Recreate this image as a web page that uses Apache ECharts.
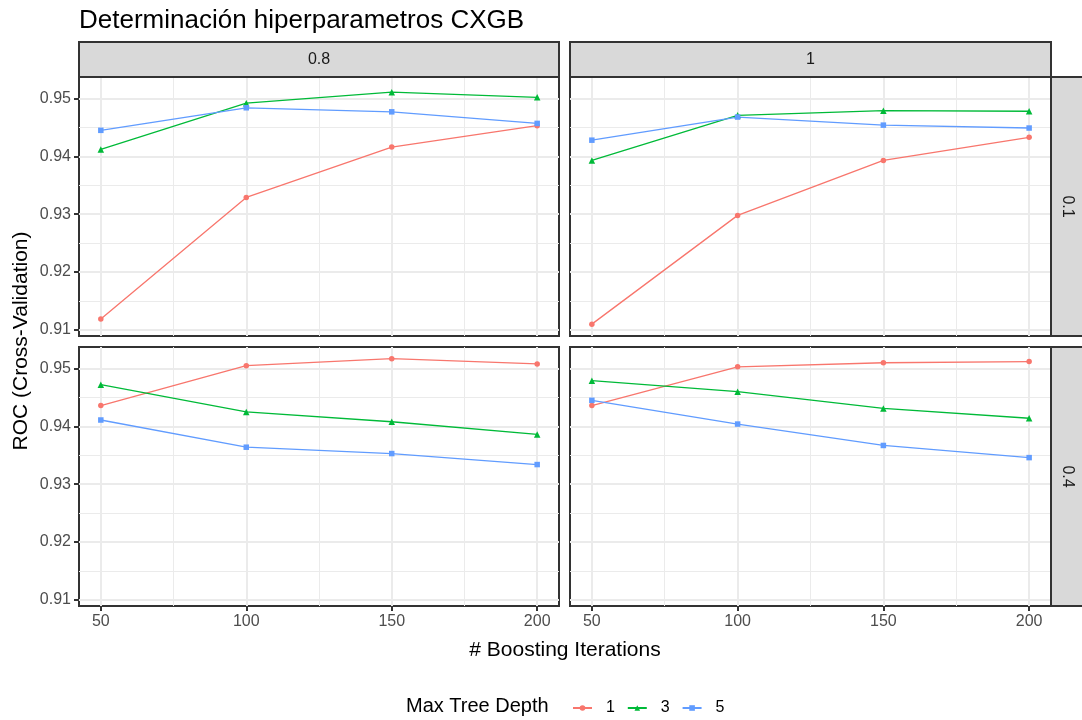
<!DOCTYPE html>
<html>
<head>
<meta charset="utf-8">
<script src="https://cdn.jsdelivr.net/npm/echarts@6/dist/echarts.min.js"></script>
<style>
  html, body { margin: 0; padding: 0; background: #ffffff; }
  #chart { width: 1082px; height: 720px; }
</style>
</head>
<body>
<div id="chart"></div>
<script>
// ---- data -------------------------------------------------------------
const iterations = [50, 100, 150, 200];
const subsampleLevels = ['0.8', '1'];      // column facets
const etaLevels = ['0.1', '0.4'];          // row facets
const depthLevels = ['1', '3', '5'];       // Max Tree Depth
const rocTicks = [0.91, 0.92, 0.93, 0.94, 0.95];
const rocMinorTicks = [0.915, 0.925, 0.935, 0.945];
const iterTicks = [50, 100, 150, 200];
const iterMinorTicks = [75, 125, 175];

// ROC per boosting iterations, subsample 0.8, eta 0.1
const roc_s08_e01_d1 = [0.9119, 0.9329, 0.9416, 0.9453];
const roc_s08_e01_d3 = [0.9412, 0.9492, 0.9511, 0.9502];
const roc_s08_e01_d5 = [0.9445, 0.9484, 0.9477, 0.9457];
// subsample 1, eta 0.1
const roc_s1_e01_d1 = [0.9110, 0.9298, 0.9393, 0.9433];
const roc_s1_e01_d3 = [0.9393, 0.9471, 0.9479, 0.9478];
const roc_s1_e01_d5 = [0.9428, 0.9468, 0.9454, 0.9449];
// subsample 0.8, eta 0.4
const roc_s08_e04_d1 = [0.9436, 0.9505, 0.9517, 0.9508];
const roc_s08_e04_d3 = [0.9472, 0.9425, 0.9408, 0.9386];
const roc_s08_e04_d5 = [0.9411, 0.9364, 0.9353, 0.9334];
// subsample 1, eta 0.4
const roc_s1_e04_d1 = [0.9436, 0.9503, 0.9510, 0.9512];
const roc_s1_e04_d3 = [0.9479, 0.9460, 0.9431, 0.9414];
const roc_s1_e04_d5 = [0.9445, 0.9404, 0.9367, 0.9346];

// ---- layout & style ---------------------------------------------------
const FONT = '"Liberation Sans", Arial, sans-serif';
const colLeft = [79, 570];
const colWidth = [480, 481];
const rowTop = [77, 347];
const rowHeight = 259;
const stripTop = 42, stripH = 35;
const stripRightX = 1051, stripRightW = 34;
const xRange = [42.5, 207.5];
const yRange = [0.90895, 0.95372];

const depthColors = ['#F8766D', '#00BA38', '#619CFF'];
const depthSymbols = ['circle', 'triangle', 'rect'];
const depthSymbolSizes = [5.5, 6.5, 5.5];

const panels = [
  { col: 0, row: 0, values: [roc_s08_e01_d1, roc_s08_e01_d3, roc_s08_e01_d5] },
  { col: 1, row: 0, values: [roc_s1_e01_d1, roc_s1_e01_d3, roc_s1_e01_d5] },
  { col: 0, row: 1, values: [roc_s08_e04_d1, roc_s08_e04_d3, roc_s08_e04_d5] },
  { col: 1, row: 1, values: [roc_s1_e04_d1, roc_s1_e04_d3, roc_s1_e04_d5] }
];

const grids = [], xAxes = [], yAxes = [], series = [];

panels.forEach((p, i) => {
  grids.push({
    left: colLeft[p.col], top: rowTop[p.row],
    width: colWidth[p.col], height: rowHeight,
    show: true, backgroundColor: '#ffffff',
    borderColor: '#333333', borderWidth: 2, z: 0
  });
  const showX = p.row === 1;
  const showY = p.col === 0;
  // major x axis (ticks and labels on the bottom row)
  xAxes.push({
    type: 'value', gridIndex: i, min: xRange[0], max: xRange[1], position: 'bottom',
    axisLine: { show: false },
    axisTick: { show: showX, length: 5, customValues: iterTicks,
                lineStyle: { color: '#333333', width: 2 } },
    axisLabel: { show: showX, customValues: iterTicks, margin: 8,
                 color: '#4D4D4D', fontSize: 16, fontFamily: FONT },
    splitLine: { show: true, lineStyle: { color: '#EBEBEB', width: 2 } },
    z: 1
  });
  // minor x grid
  xAxes.push({
    type: 'value', gridIndex: i, min: xRange[0], max: xRange[1], position: 'bottom',
    axisLine: { show: false },
    axisTick: { show: false, customValues: iterMinorTicks },
    axisLabel: { show: false, customValues: iterMinorTicks },
    splitLine: { show: true, lineStyle: { color: '#EBEBEB', width: 1 } },
    z: 1
  });
  // major y axis
  yAxes.push({
    type: 'value', gridIndex: i, min: yRange[0], max: yRange[1], position: 'left',
    axisLine: { show: false },
    axisTick: { show: showY, length: 5, customValues: rocTicks,
                lineStyle: { color: '#333333', width: 2 } },
    axisLabel: { show: showY, customValues: rocTicks, margin: 8,
                 color: '#4D4D4D', fontSize: 16, fontFamily: FONT,
                 formatter: v => v.toFixed(2) },
    splitLine: { show: true, lineStyle: { color: '#EBEBEB', width: 2 } },
    z: 1
  });
  // minor y grid
  yAxes.push({
    type: 'value', gridIndex: i, min: yRange[0], max: yRange[1], position: 'left',
    axisLine: { show: false },
    axisTick: { show: false, customValues: rocMinorTicks },
    axisLabel: { show: false, customValues: rocMinorTicks },
    splitLine: { show: true, lineStyle: { color: '#EBEBEB', width: 1 } },
    z: 1
  });
  p.values.forEach((vals, d) => {
    series.push({
      type: 'line', name: depthLevels[d],
      xAxisIndex: i * 2, yAxisIndex: i * 2,
      data: iterations.map((it, k) => [it, vals[k]]),
      symbol: depthSymbols[d], symbolSize: depthSymbolSizes[d], showSymbol: true,
      itemStyle: { color: depthColors[d] },
      lineStyle: { color: depthColors[d], width: 1.3 },
      emphasis: { disabled: true },
      animation: false, z: 3
    });
  });
});

// facet strips
const graphics = [];
subsampleLevels.forEach((lab, c) => {
  graphics.push({
    type: 'rect', z: 10,
    shape: { x: colLeft[c], y: stripTop, width: colWidth[c], height: stripH },
    style: { fill: '#D9D9D9', stroke: '#333333', lineWidth: 2 }
  });
  graphics.push({
    type: 'text', z: 11,
    x: colLeft[c] + colWidth[c] / 2, y: stripTop + stripH / 2,
    style: { text: lab, fill: '#1A1A1A', fontSize: 16, fontFamily: FONT,
             align: 'center', verticalAlign: 'middle' }
  });
});
etaLevels.forEach((lab, r) => {
  graphics.push({
    type: 'rect', z: 10,
    shape: { x: stripRightX, y: rowTop[r], width: stripRightW, height: rowHeight },
    style: { fill: '#D9D9D9', stroke: '#333333', lineWidth: 2 }
  });
  graphics.push({
    type: 'text', z: 11,
    x: stripRightX + 16, y: rowTop[r] + rowHeight / 2,
    rotation: -Math.PI / 2,
    style: { text: lab, fill: '#1A1A1A', fontSize: 16, fontFamily: FONT,
             align: 'center', verticalAlign: 'middle' }
  });
});
// axis titles
graphics.push({
  type: 'text', z: 11, x: 21, y: 341, rotation: Math.PI / 2,
  style: { text: 'ROC (Cross-Validation)', fill: '#000000', fontSize: 21,
           fontFamily: FONT, align: 'center', verticalAlign: 'middle' }
});
graphics.push({
  type: 'text', z: 11, x: 565, y: 650,
  style: { text: '# Boosting Iterations', fill: '#000000', fontSize: 21,
           fontFamily: FONT, align: 'center', verticalAlign: 'middle' }
});
// legend title
graphics.push({
  type: 'text', z: 11, x: 406, y: 706,
  style: { text: 'Max Tree Depth', fill: '#000000', fontSize: 20,
           fontFamily: FONT, align: 'left', verticalAlign: 'middle' }
});

const chart = echarts.init(document.getElementById('chart'), null, { renderer: 'canvas' });
chart.setOption({
  animation: false,
  backgroundColor: '#ffffff',
  title: {
    text: 'Determinación hiperparametros CXGB',
    left: 79, top: 8, padding: 0,
    textStyle: { fontSize: 26, fontWeight: 'normal', color: '#000000', fontFamily: FONT }
  },
  legend: {
    data: depthLevels,
    left: 572, top: 700, padding: 0,
    itemWidth: 19, itemHeight: 7, itemGap: 12,
    formatter: n => '  ' + n,
    textStyle: { fontSize: 16, color: '#000000', fontFamily: FONT },
    selectedMode: false
  },
  grid: grids,
  xAxis: xAxes,
  yAxis: yAxes,
  series: series,
  graphic: graphics
});
</script>
</body>
</html>
